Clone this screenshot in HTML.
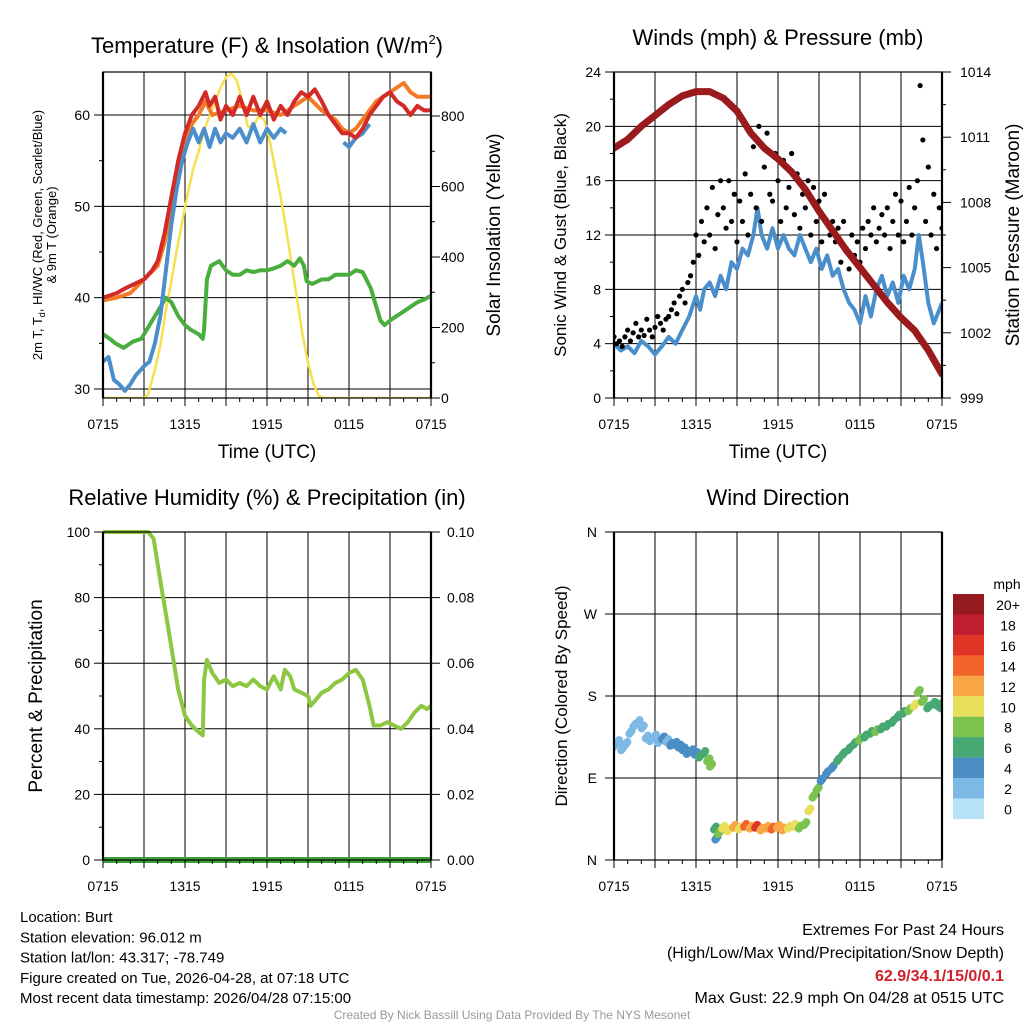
<!DOCTYPE html>
<html><head><meta charset="utf-8">
<style>
body{margin:0;background:#fff;}
svg{display:block;font-family:"Liberation Sans",Arial,sans-serif;}
</style></head>
<body>
<svg id="c" width="1024" height="1024" viewBox="0 0 1024 1024" xmlns="http://www.w3.org/2000/svg"></svg>
<script>
// ---------- DATA ----------
const xTickLabels = ["0715","1315","1915","0115","0715"];
const tempRed = [[0,40],[1,40.5],[1.6,41],[3,42],[3.6,43],[4,44],[4.5,47],[5,51],[5.5,55],[6,58],[6.5,60],[7,61],[7.5,62.5],[7.8,61],[8.2,62],[8.6,59.5],[9,61],[9.5,60],[10,62],[10.5,60],[11,62],[11.5,60],[12,61.5],[12.5,59.5],[13,61],[13.5,60],[14,61.5],[14.5,62.5],[15,62],[15.5,62.8],[16,61.5],[16.5,60],[17,59],[17.5,58],[18,58],[18.5,57.5],[19,58.5],[19.5,60],[20,61],[20.5,62],[21,62.5],[21.5,61.5],[22,61],[22.5,60],[23,61],[23.5,60.5],[24,60.5]];
const temp9m = [[0,39.7],[1,40],[2,40.5],[3,42],[4,43.5],[4.5,46],[5,50],[5.5,54],[6,57],[6.5,59],[7,60],[7.5,61.5],[8,60],[9,60.5],[10,61],[11,60.5],[12,60.5],[13,60],[14,61],[15,62],[16,60.5],[17,59.5],[17.5,58.5],[18,58],[18.5,58.5],[19,59.5],[19.5,60.5],[20,61.5],[21,62.5],[21.5,63],[22,63.5],[22.5,62.5],[23,62],[24,62]];
const hiwcA = [[0,33],[0.4,33.5],[0.8,31],[1.2,30.5],[1.6,29.8],[2,30.5],[2.4,31.5],[3,32.5],[3.4,33],[3.8,35],[4.2,38],[4.6,43],[5,48],[5.4,52],[5.8,55],[6.2,57],[6.6,58.5],[7,57],[7.4,58.5],[7.8,56.5],[8.2,58.5],[8.6,57],[9,58],[9.5,57.5],[10,58.5],[10.5,57],[11,59],[11.5,57],[12,58.5],[12.5,57.5],[13,58.5],[13.4,58]];
const hiwcB = [[17.6,57],[18,56.5],[18.5,57.5],[19,58],[19.5,59]];
const dewpt = [[0,36],[0.5,35.5],[0.9,35],[1.5,34.5],[2.2,35.2],[2.8,35.5],[3.4,37],[4,38.5],[4.6,40],[5,39.5],[5.5,38],[6,37],[6.4,36.5],[7,36],[7.3,35.5],[7.4,36.5],[7.6,42],[7.9,43.5],[8.5,44],[9,43],[9.5,42.5],[10,42.5],[10.5,43],[11,42.8],[11.5,43],[12,43],[12.5,43.2],[13,43.5],[13.5,44],[14,43.5],[14.4,44.3],[14.7,43.5],[14.9,41.8],[15.3,41.5],[16,42],[16.5,42],[17,42.5],[17.5,42.5],[18,42.5],[18.5,43],[19,42.8],[19.6,41],[20,39],[20.3,37.5],[20.6,37],[21,37.5],[21.5,38],[22,38.5],[22.5,39],[23,39.5],[23.5,39.8],[24,40.2]];
const insol = [[0,0],[3,0],[3.3,10],[3.8,80],[4.2,150],[4.6,250],[5,330],[5.4,420],[5.8,500],[6.2,580],[6.6,650],[7,700],[7.4,760],[7.8,800],[8.2,840],[8.6,880],[9,910],[9.4,920],[9.8,900],[10.2,840],[10.6,770],[11,770],[11.4,800],[11.8,790],[12.2,730],[12.6,650],[13,570],[13.4,480],[13.8,380],[14.2,280],[14.6,180],[15,100],[15.4,40],[15.8,5],[16.2,0],[24,0]];
const pressure = [[0,1010.5],[1,1010.9],[2,1011.5],[3,1012],[4,1012.5],[5,1012.9],[6,1013.1],[7,1013.1],[8,1012.8],[9,1012.2],[10,1011.2],[11,1010.5],[12,1010],[13,1009.4],[14,1008.6],[15,1007.6],[16,1006.7],[17,1005.8],[18,1005],[19,1004.2],[20,1003.4],[21,1002.7],[22,1002.1],[23,1001.2],[24,1000.1]];
const wind = [[0,4],[0.5,3.5],[1,3.8],[1.5,3.3],[2,4.2],[2.5,3.8],[3,3.2],[3.5,3.8],[4,4.5],[4.5,4],[5,5],[5.5,6],[6,7.5],[6.3,6.5],[6.6,8],[7,8.5],[7.4,7.5],[7.8,9],[8.2,8],[8.6,10],[9,9.5],[9.4,11],[9.8,10.5],[10.2,12],[10.5,14],[10.8,12],[11.2,11],[11.6,12.5],[12,11],[12.4,12],[12.8,11],[13.2,10.5],[13.6,12],[14,11],[14.4,10],[14.8,11],[15.2,9.5],[15.6,10.5],[16,9],[16.4,9.5],[16.8,8],[17.2,7],[17.6,6.5],[18,5.5],[18.4,7.5],[18.8,6],[19.2,8],[19.6,9],[20,7.5],[20.4,8.5],[20.8,7],[21.2,9],[21.6,8],[22,9.5],[22.3,12],[22.6,10],[23,7],[23.4,5.5],[23.8,6.5],[24,7]];
const gusts = [4.5,4,4.2,3.8,4.5,5,4.2,4.8,5.5,4.5,5,4.6,5.8,5,4.5,5.2,6,5.5,5,5.8,
 6,6.5,7,6.2,7.5,8,7,8.5,9,10,
 12,10.5,13,11.5,14,12,15.5,11,13.5,16,
 14,12.5,16,13,15,11.5,14.5,13,16.5,12,
 15,18.5,14,20,13,17,19.5,15,14.5,18,
 16,13,17.5,14,15.5,18,13.5,16.5,12.5,15,
 14,16,12,15.5,13,14.5,11.5,15,13,12,
 13,11.5,12.5,10,13,11,9.5,12,10.5,11.5,
 10,12.5,11,13,12,14,11.5,12.5,13.5,12,
 14,11,13,15,12,14.5,11.5,13,15.5,12,
 14,16,23,19,13,17,12,15,11,14,12.5];
const rh = [[0,100],[3.3,100],[3.7,98],[4.2,85],[4.6,75],[5,65],[5.5,52],[6,44],[6.5,41],[7,39],[7.3,38],[7.4,55],[7.6,61],[8,57],[8.5,54],[9,55],[9.5,53],[10,54],[10.5,53],[11,55],[11.5,53],[12,52],[12.5,56],[13,52],[13.3,58],[13.7,56],[14,52],[14.5,51],[15,50],[15.2,47],[15.6,49],[16,51],[16.5,52],[17,54],[17.5,55],[18,57],[18.5,58],[19,55],[19.5,47],[19.8,41],[20.3,41],[20.8,42],[21.3,41],[21.8,40],[22.3,42],[22.8,45],[23.3,47],[23.7,46],[24,47]];
const dirTimes = [0,0.3,0.6,0.9,1.2,1.5,1.8,2.1,2.4,2.7,3,3.3,3.6,3.9,4.2,4.5,4.8,5.1,5.4,5.7,6,6.3,6.6,6.9,7.1,7.4,7.5,7.7,8,8.4,8.8,9.2,9.6,10,10.4,10.8,11.2,11.6,12,12.4,12.8,13.2,13.6,14,14.3,14.6,14.9,15.2,15.6,16,16.4,16.8,17.2,17.6,18,18.4,18.8,19.2,19.6,20,20.4,20.8,21.2,21.6,22,22.3,22.6,23,23.4,23.8,24];
const dirValues = [125,130,122,128,140,148,152,146,135,132,136,130,134,131,127,128,125,122,118,120,117,114,118,110,104,35,24,30,36,33,37,35,38,36,37,34,36,35,37,34,36,38,36,40,55,70,78,88,96,102,110,117,122,128,133,136,140,142,145,148,152,158,162,165,170,185,175,168,172,170,168];
const dirSpeeds = [3,2,2,3,3,2,3,2,3,3,2,3,4,3,4,4,4,4,4,5,5,6,7,8,9,6,5,8,10,11,12,10,14,13,16,13,12,14,12,13,11,10,9,8,10,9,8,5,4,5,6,7,6,7,8,6,7,8,7,6,7,6,7,9,11,8,9,6,7,6,7];
const cbLabels = ["20+","18","16","14","12","10","8","6","4","2","0"];
const cbColors = ["#951A1D","#BE1E2D","#E03526","#F26429","#F9A646","#E8E05A","#7BC24E","#48A874","#4A8EC5","#7DB9E5","#B8E2F8"];

// ---------- HELPERS ----------
const NS="http://www.w3.org/2000/svg";
const svg=document.getElementById('c');
function mk(tag,attrs,parent){const e=document.createElementNS(NS,tag);for(const k in attrs)e.setAttribute(k,attrs[k]);(parent||svg).appendChild(e);return e;}
function txt(s,x,y,size,anchor,parent,extra){const t=mk('text',Object.assign({x:x,y:y,'font-size':size,'text-anchor':anchor||'middle',fill:'#000'},extra||{}),parent);t.textContent=s;return t;}
function lin(d0,d1,r0,r1){return v=>r0+(v-d0)*(r1-r0)/(d1-d0);}
function pathD(pts,sx,sy){return pts.map((p,i)=>(i?'L':'M')+sx(p[0]).toFixed(1)+','+sy(p[1]).toFixed(1)).join('');}
function speedColor(s){let i=Math.min(10,Math.floor(s/2));return cbColors[10-i];}

function frame(g,x0,y0,x1,y1,hy,vlines){
  hy.forEach(y=>mk('line',{x1:x0,x2:x1,y1:y,y2:y,stroke:'#000','stroke-width':1},g));
  vlines.forEach(x=>mk('line',{x1:x,x2:x,y1:y0,y2:y1,stroke:'#000','stroke-width':1},g));
}
function border(g,x0,y0,x1,y1){
  mk('rect',{x:x0,y:y0,width:x1-x0,height:y1-y0,fill:'none',stroke:'#000','stroke-width':1.2},g);
  mk('line',{x1:x0,x2:x0,y1:y0,y2:y1,stroke:'#000','stroke-width':2.2},g);
  mk('line',{x1:x1,x2:x1,y1:y0,y2:y1,stroke:'#000','stroke-width':2.2},g);
}
function xAxis(g,x0,x1,y1,sx){
  for(let h=0;h<=24;h+=3){mk('line',{x1:sx(h),x2:sx(h),y1:y1,y2:y1+8,stroke:'#000','stroke-width':1},g);}
  for(let h=0;h<=24;h+=1){mk('line',{x1:sx(h),x2:sx(h),y1:y1,y2:y1+4,stroke:'#000','stroke-width':1},g);}
  xTickLabels.forEach((l,i)=>{const t=txt(l,sx(i*6),y1+31,14,'middle',g);});
}
function richText(parent,attrs,parts){
  const t=mk('text',attrs,parent);
  parts.forEach(p=>{const s=mk('tspan',p.a||{},t);s.textContent=p.s;});
  return t;
}

// ---------- PANEL 1 ----------
(function(){
  const g=mk('g',{});  
  const x0=103,x1=431,y0=72,y1=398;
  const sx=lin(0,24,x0,x1), sy=lin(30,60,389,115), sy2=lin(0,800,398,116);
  frame(g,x0,y0,x1,y1,[30,40,50,60].map(sy),[3,6,9,12,15,18,21].map(sx));
  [30,40,50,60].forEach(v=>{mk('line',{x1:x0-9,x2:x0,y1:sy(v),y2:sy(v),stroke:'#000'},g);txt(String(v),x0-13,sy(v)+5,14,'end',g);});
  for(let v=29;v<=64;v++){if(v%5==0&&v%10!=0)mk('line',{x1:x0-4,x2:x0,y1:sy(v),y2:sy(v),stroke:'#000'},g);}
  [0,200,400,600,800].forEach(v=>{mk('line',{x1:x1,x2:x1+9,y1:sy2(v),y2:sy2(v),stroke:'#000'},g);txt(String(v),x1+10,sy2(v)+5,14,'start',g);});
  [100,300,500,700].forEach(v=>mk('line',{x1:x1,x2:x1+4,y1:sy2(v),y2:sy2(v),stroke:'#000'},g));
  const clip=mk('clipPath',{id:'cp1'},g); mk('rect',{x:x0,y:y0,width:x1-x0,height:y1-y0},clip);
  const d=mk('g',{'clip-path':'url(#cp1)'},g);
  const s=(arr,col,w,yf,name)=>{const p=mk('path',{d:pathD(arr,sx,yf||sy),fill:'none',stroke:col,'stroke-width':w,'stroke-linejoin':'round'},d);};
  s(insol,'#F7E04F',2.5,sy2,'insolation-line');
  s(dewpt,'#4AAE3F',4,null,'dewpoint-line');
  s(temp9m,'#F47B25',4,null,'temp-9m-line');
  s(hiwcA,'#4A8FCB',4,null,'heat-index-line');
  s(hiwcB,'#4A8FCB',4,null,'heat-index-line-2');
  s(tempRed,'#D42A27',4,null,'temp-2m-line');
  border(g,x0,y0,x1,y1);
  xAxis(g,x0,x1,y1,sx);
  const t=richText(g,{x:267,y:53,'font-size':22,'text-anchor':'middle'},[{s:'Temperature (F) & Insolation (W/m'},{s:'2',a:{'font-size':13,dy:-9}},{s:')',a:{dy:9}}]);
  
  const xt=txt('Time (UTC)',267,458,19,'middle',g);
  const yl=richText(g,{transform:'translate(42,235) rotate(-90)','font-size':13,'text-anchor':'middle'},[{s:'2m T, T'},{s:'d',a:{'font-size':9,dy:3}},{s:', HI/WC (Red, Green, Scarlet/Blue)',a:{dy:-3}}]);
  
  const yl2=mk('text',{transform:'translate(56,235) rotate(-90)','font-size':13,'text-anchor':'middle'},g); yl2.textContent='& 9m T (Orange)';
  const yr=mk('text',{transform:'translate(500,235) rotate(-90)','font-size':19,'text-anchor':'middle'},g); yr.textContent='Solar Insolation (Yellow)';
  
})();

// ---------- PANEL 2 ----------
(function(){
  const g=mk('g',{});  
  const x0=614,x1=942,y0=72,y1=398;
  const sx=lin(0,24,x0,x1), sy=lin(0,24,y1,y0), sy2=lin(999,1014,y1,y0);
  frame(g,x0,y0,x1,y1,[4,8,12,16,20].map(sy),[3,6,9,12,15,18,21].map(sx));
  [0,4,8,12,16,20,24].forEach(v=>{mk('line',{x1:x0-9,x2:x0,y1:sy(v),y2:sy(v),stroke:'#000'},g);txt(String(v),x0-13,sy(v)+5,14,'end',g);});
  [2,6,10,14,18,22].forEach(v=>mk('line',{x1:x0-4,x2:x0,y1:sy(v),y2:sy(v),stroke:'#000'},g));
  [999,1002,1005,1008,1011,1014].forEach(v=>{mk('line',{x1:x1,x2:x1+9,y1:sy2(v),y2:sy2(v),stroke:'#000'},g);txt(String(v),x1+18,sy2(v)+5,14,'start',g);});
  [1000.5,1003.5,1006.5,1009.5,1012.5].forEach(v=>mk('line',{x1:x1,x2:x1+4,y1:sy2(v),y2:sy2(v),stroke:'#000'},g));
  const clip=mk('clipPath',{id:'cp2'},g); mk('rect',{x:x0,y:y0-4,width:x1-x0,height:y1-y0+4},clip);
  const d=mk('g',{'clip-path':'url(#cp2)'},g);
  const wl=mk('path',{d:pathD(wind,sx,sy),fill:'none',stroke:'#4A8FCB','stroke-width':4,'stroke-linejoin':'round'},d);
  
  gusts.forEach((v,i)=>{const c=mk('circle',{cx:sx(i*24/(gusts.length-1)),cy:sy(v),r:2.6,fill:'#000'},d);
    });
  const pl=mk('path',{d:pathD(pressure,sx,sy2),fill:'none',stroke:'#991B1E','stroke-width':7,'stroke-linejoin':'round','stroke-linecap':'round'},d);
  
  border(g,x0,y0,x1,y1);
  xAxis(g,x0,x1,y1,sx);
  const t=txt('Winds (mph) & Pressure (mb)',778,45,22,'middle',g);
  const xt=txt('Time (UTC)',778,458,19,'middle',g);
  const yl=mk('text',{transform:'translate(566,235) rotate(-90)','font-size':17,'text-anchor':'middle'},g);yl.textContent='Sonic Wind & Gust (Blue, Black)';
  
  const yr=mk('text',{transform:'translate(1019,235) rotate(-90)','font-size':19,'text-anchor':'middle'},g);yr.textContent='Station Pressure (Maroon)';
  
})();

// ---------- PANEL 3 ----------
(function(){
  const g=mk('g',{});  
  const x0=103,x1=431,y0=532,y1=860;
  const sx=lin(0,24,x0,x1), sy=lin(0,100,y1,y0), sy2=lin(0,0.1,y1,y0);
  frame(g,x0,y0,x1,y1,[20,40,60,80].map(sy),[3,6,9,12,15,18,21].map(sx));
  [0,20,40,60,80,100].forEach(v=>{mk('line',{x1:x0-9,x2:x0,y1:sy(v),y2:sy(v),stroke:'#000'},g);txt(String(v),x0-13,sy(v)+5,14,'end',g);});
  [10,30,50,70,90].forEach(v=>mk('line',{x1:x0-4,x2:x0,y1:sy(v),y2:sy(v),stroke:'#000'},g));
  ["0.00","0.02","0.04","0.06","0.08","0.10"].forEach((l,i)=>{const v=i*0.02;mk('line',{x1:x1,x2:x1+9,y1:sy2(v),y2:sy2(v),stroke:'#000'},g);txt(l,x1+16,sy2(v)+5,14,'start',g);});
  const rl=mk('path',{d:pathD(rh,sx,sy),fill:'none',stroke:'#8DC641','stroke-width':4,'stroke-linejoin':'round'},g);
  
  const pr=mk('line',{x1:x0,x2:x1,y1:sy2(0),y2:sy2(0),stroke:'#3F9E3A','stroke-width':6},g);
  
  border(g,x0,y0,x1,y1);
  xAxis(g,x0,x1,y1,sx);
  const t=txt('Relative Humidity (%) & Precipitation (in)',267,505,22,'middle',g);
  const yl=mk('text',{transform:'translate(42,696) rotate(-90)','font-size':19,'text-anchor':'middle'},g);yl.textContent='Percent & Precipitation';
  
})();

// ---------- PANEL 4 ----------
(function(){
  const g=mk('g',{});  
  const x0=614,x1=942,y0=532,y1=860;
  const sx=lin(0,24,x0,x1), sy=lin(0,360,y1,y0);
  frame(g,x0,y0,x1,y1,[90,180,270].map(sy),[3,6,9,12,15,18,21].map(sx));
  ["N","E","S","W","N"].forEach((l,i)=>{const v=i*90;mk('line',{x1:x0-9,x2:x0,y1:sy(v),y2:sy(v),stroke:'#000'},g);txt(l,x0-17,sy(v)+5,14,'end',g);});
  const clip=mk('clipPath',{id:'cp4'},g); mk('rect',{x:x0,y:y0,width:x1-x0,height:y1-y0},clip);
  const d=mk('g',{'clip-path':'url(#cp4)'},g);
  dirTimes.forEach((h,i)=>{
    [-0.08,0,0.08].forEach(o=>{const c=mk('circle',{cx:sx(h+o),cy:sy(dirValues[i]+o*20),r:4,fill:speedColor(dirSpeeds[i])},d);
      });
  });
  border(g,x0,y0,x1,y1);
  xAxis(g,x0,x1,y1,sx);
  const t=txt('Wind Direction',778,505,22,'middle',g);
  const yl=mk('text',{transform:'translate(567,696) rotate(-90)','font-size':17,'text-anchor':'middle'},g);yl.textContent='Direction (Colored By Speed)';
  
  const cb=mk('g',{},g);
  txt('mph',1007,589,14,'middle',cb);
  cbColors.forEach((c,i)=>{mk('rect',{x:953,y:594+i*20.45,width:31,height:20.6,fill:c},cb);
    txt(cbLabels[i],1008,610+i*20.45,14,'middle',cb);});
})();

// ---------- FOOTER ----------
(function(){
  const g=mk('g',{});
  ["Location: Burt","Station elevation: 96.012 m","Station lat/lon: 43.317; -78.749","Figure created on Tue, 2026-04-28, at 07:18 UTC","Most recent data timestamp: 2026/04/28 07:15:00"].forEach((l,i)=>txt(l,20,922+i*20.3,15,'start',g));
  const r=mk('g',{});
  txt('Extremes For Past 24 Hours',1004,935,16,'end',r);
  txt('(High/Low/Max Wind/Precipitation/Snow Depth)',1004,958,16,'end',r);
  txt('62.9/34.1/15/0/0.1',1004,981,16,'end',r,{fill:'#D0202A','font-weight':'bold'});
  txt('Max Gust: 22.9 mph On 04/28 at 0515 UTC',1004,1003,16,'end',r);
  const c=txt('Created By Nick Bassill Using Data Provided By The NYS Mesonet',512,1019,12,'middle',null,{fill:'#999'});
  
})();
</script>
</body></html>
